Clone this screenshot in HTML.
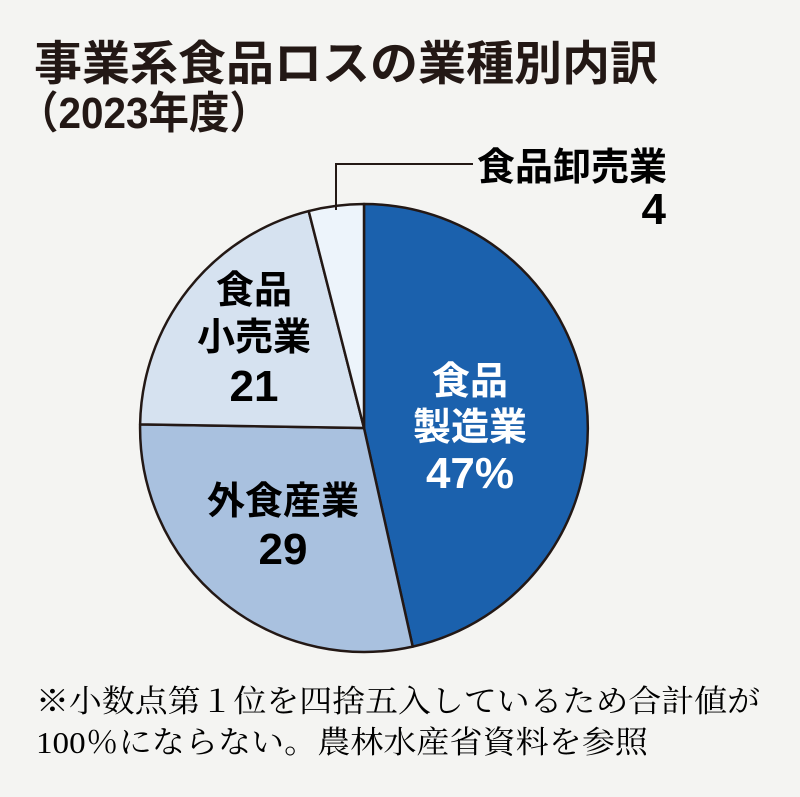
<!DOCTYPE html><html><head><meta charset="utf-8"><style>
body{margin:0;width:800px;height:792px;background:#f4f4f2;overflow:hidden;font-family:"Liberation Sans","Noto Sans CJK JP",sans-serif;color:#231815}
</style></head><body>
<svg width="800" height="792" xmlns="http://www.w3.org/2000/svg" font-family="Liberation Sans, Noto Sans CJK JP, sans-serif">
<text x="34" y="80" font-size="47" font-weight="bold" fill="#231815" textLength="624" lengthAdjust="spacingAndGlyphs">事業系食品ロスの業種別内訳</text>
<text x="18" y="128" font-size="44" font-weight="bold" fill="#231815" textLength="252" lengthAdjust="spacingAndGlyphs">（2023年度）</text>
<g stroke="#231815" stroke-width="2.5" stroke-linejoin="round">
<path d="M364 428 L364 204 A224 224 0 0 1 412.7 646.6 Z" fill="#1b61ad"/>
<path d="M364 428 L412.7 646.6 A224 224 0 0 1 140.1 424.4 Z" fill="#a9c1df"/>
<path d="M364 428 L140.1 424.4 A224 224 0 0 1 308.7 211.1 Z" fill="#d6e2f0"/>
<path d="M364 428 L308.7 211.1 A224 224 0 0 1 364 204 Z" fill="#edf4fb"/>
</g>
<polyline points="336,210 336,164 473,164" fill="none" stroke="#231815" stroke-width="2"/>
<text x="477" y="180" font-size="38" font-weight="bold">食品卸売業</text>
<text x="666" y="224" font-size="44" font-weight="bold" text-anchor="end">4</text>
<g font-size="38" font-weight="bold" text-anchor="middle">
<text x="470" y="394" fill="#fff">食品</text>
<text x="470" y="440" fill="#fff">製造業</text>
<text x="470" y="488" fill="#fff" font-size="44">47%</text>
<text x="254" y="303">食品</text>
<text x="254" y="350">小売業</text>
<text x="254" y="401" font-size="44">21</text>
<text x="283" y="514">外食産業</text>
<text x="283" y="564" font-size="44">29</text>
</g>
<g font-family="Liberation Serif, Noto Serif CJK SC, serif">
<text x="36" y="712" font-size="31" textLength="724" lengthAdjust="spacingAndGlyphs">※小数点第１位を四捨五入しているため合計値が</text>
<text x="36" y="753" font-size="31" textLength="612" lengthAdjust="spacingAndGlyphs">100％にならない。農林水産省資料を参照</text>
</g>
</svg>
</body></html>
